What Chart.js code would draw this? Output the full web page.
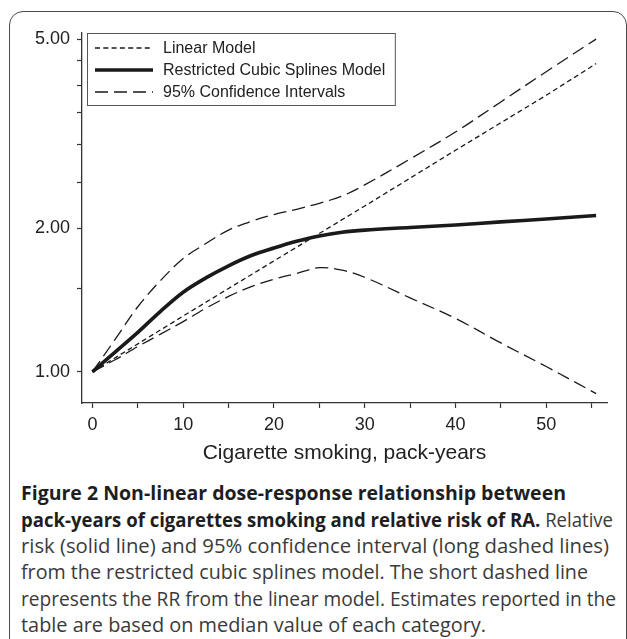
<!DOCTYPE html>
<html>
<head>
<meta charset="utf-8">
<script src="https://cdn.jsdelivr.net/npm/chart.js@4.4.1/dist/chart.umd.min.js"></script>
<style>
	html, body { margin: 0; padding: 0; background: #fff; }
	body { width: 627px; height: 639px; overflow: hidden; position: relative; }
	#frame { position: absolute; left: 9px; top: 11px; width: 618px; height: 700px; border: 1.5px solid #4a4a4a; border-radius: 14px; box-sizing: border-box; }
	#plot { position: absolute; left: 0; top: 0; }
	#caption { position: absolute; left: 21px; top: 0; font-family: "Open Sans", sans-serif; font-size: 19.5px; color: #3a3a3a; }
	.ln { position: absolute; left: 0; white-space: nowrap; line-height: 26px; transform-origin: 0 50%; }
	.ln b { color: #1e1e1e; font-weight: 700; }
</style>
</head>
<body>
<div id="frame"></div>
<canvas id="plot" width="627" height="470"></canvas>
<div id="caption">
	<div class="ln" style="top:480px" data-w="545"><b>Figure 2 Non-linear dose-response relationship between</b></div>
	<div class="ln" style="top:507px" data-w="592"><b>pack-years of cigarettes smoking and relative risk of RA.</b> Relative</div>
	<div class="ln" style="top:533px" data-w="588">risk (solid line) and 95% confidence interval (long dashed lines)</div>
	<div class="ln" style="top:559px" data-w="567">from the restricted cubic splines model. The short dashed line</div>
	<div class="ln" style="top:586px" data-w="595">represents the RR from the linear model. Estimates reported in the</div>
	<div class="ln" style="top:612px" data-w="465">table are based on median value of each category.</div>
</div>
<script>
	'use strict';

	// Values (relative risk vs pack-years)
	var packYears = [0, 2.5, 5, 7.5, 10, 12.5, 15, 17.5, 20, 22.5, 25, 27.5, 30, 35, 40, 45, 50, 55.5];
	var splineRR  = [1.00, 1.10, 1.21, 1.34, 1.47, 1.575, 1.67, 1.755, 1.82, 1.88, 1.93, 1.965, 1.985, 2.01, 2.035, 2.065, 2.095, 2.13];
	var upperCI   = [1.00, 1.17, 1.37, 1.555, 1.73, 1.86, 1.985, 2.07, 2.14, 2.195, 2.26, 2.34, 2.47, 2.80, 3.19, 3.69, 4.27, 5.00];
	var lowerCI   = [1.00, 1.06, 1.13, 1.20, 1.275, 1.36, 1.44, 1.51, 1.565, 1.61, 1.655, 1.635, 1.58, 1.43, 1.295, 1.15, 1.026, 0.90];

	var linearYears = [0, 10, 20, 30, 40, 50, 55.5];
	var linearRR    = [1.00, 1.31, 1.71, 2.23, 2.92, 3.81, 4.44];

	var xTicks = [0, 5, 10, 15, 20, 25, 30, 35, 40, 45, 50, 55];
	var yTicks = [1, 1.5, 2, 2.5, 3, 3.5, 4, 4.5, 5];
	var yLabelled = [1, 2, 5];

	var INK = '#1a1a1a';
	var FONT = '"Liberation Sans", Arial, sans-serif';

	function pairs(xs, ys) {
		return xs.map(function(x, i) { return { x: x, y: ys[i] }; });
	}

	// Boxed legend drawn inside the plot, top-left
	var boxLegend = {
		id: 'boxLegend',
		afterDraw: function(chart) {
			var c = chart.ctx;
			var items = chart.data.datasets
				.filter(function(d) { return d.legendOrder; })
				.sort(function(a, b) { return a.legendOrder - b.legendOrder; });
			var left = 87.5, top = 33.5, rowH = 22, textX = 163;
			c.save();
			c.font = '16px ' + FONT;
			var maxW = 0;
			items.forEach(function(d) { maxW = Math.max(maxW, c.measureText(d.label).width); });
			var w = textX - left + maxW + 10, h = 72;
			c.fillStyle = '#fff';
			c.fillRect(left, top, w, h);
			c.strokeStyle = '#555';
			c.lineWidth = 1;
			c.strokeRect(left, top, w, h);
			items.forEach(function(d, i) {
				var y = top + 14.5 + i * rowH;
				c.beginPath();
				c.setLineDash(d.borderDash || []);
				c.lineWidth = d.borderWidth;
				c.strokeStyle = INK;
				c.moveTo(95, y);
				c.lineTo(153, y);
				c.stroke();
				c.setLineDash([]);
				c.fillStyle = '#222';
				c.textBaseline = 'middle';
				c.fillText(d.label, textX, y + 1);
			});
			c.restore();
		}
	};

	var ctx = document.getElementById('plot');

	new Chart(ctx, {
		type: 'line',
		data: {
			datasets: [
				{
					label: 'Upper CI',
					data: pairs(packYears, upperCI),
					borderColor: INK,
					borderWidth: 1.3,
					borderDash: [13, 6],
					tension: 0.35,
					pointRadius: 0
				},
				{
					label: '95% Confidence Intervals',
					legendOrder: 3,
					data: pairs(packYears, lowerCI),
					borderColor: INK,
					borderWidth: 1.3,
					borderDash: [13, 6],
					tension: 0.35,
					pointRadius: 0
				},
				{
					label: 'Linear Model',
					legendOrder: 1,
					data: pairs(linearYears, linearRR),
					borderColor: INK,
					borderWidth: 1.3,
					borderDash: [5, 3.3],
					tension: 0,
					pointRadius: 0
				},
				{
					label: 'Restricted Cubic Splines Model',
					legendOrder: 2,
					data: pairs(packYears, splineRR),
					borderColor: INK,
					borderWidth: 3.6,
					tension: 0.35,
					pointRadius: 0
				}
			]
		},
		options: {
			responsive: false,
			animation: false,
			layout: { padding: { left: 0, right: 20, top: 33, bottom: 0 } },
			plugins: {
				legend: { display: false },
				tooltip: { enabled: false }
			},
			scales: {
				x: {
					type: 'linear',
					min: -1.15,
					max: 56.7,
					afterBuildTicks: function(s) { s.ticks = xTicks.map(function(v) { return { value: v }; }); },
					afterFit: function(s) { s.height = 67; },
					grid: { drawOnChartArea: false, tickLength: 5, color: '#333', tickWidth: 1.2 },
					border: { color: '#333', width: 1.3 },
					ticks: {
						autoSkip: false,
						maxRotation: 0,
						padding: 6,
						color: '#222',
						font: { size: 18, family: FONT },
						callback: function(v) { return v % 10 === 0 ? String(v) : ''; }
					},
					title: {
						display: true,
						text: 'Cigarette smoking, pack-years',
						color: '#222',
						font: { size: 21, family: FONT },
						padding: { top: 2, bottom: 4 }
					}
				},
				y: {
					type: 'logarithmic',
					min: 0.86,
					max: 5.15,
					afterBuildTicks: function(s) { s.ticks = yTicks.map(function(v) { return { value: v }; }); },
					afterFit: function(s) { s.width = 82; },
					grid: { drawOnChartArea: false, tickLength: 5, color: '#333', tickWidth: 1.2 },
					border: { color: '#333', width: 1.3 },
					ticks: {
						autoSkip: false,
						padding: 7,
						color: '#222',
						font: { size: 18, family: FONT },
						callback: function(v) { return yLabelled.indexOf(v) >= 0 ? v.toFixed(2) : ''; }
					}
				}
			}
		},
		plugins: [boxLegend]
	});

	// Squeeze each caption line to the width it has in the figure
	function fitCaption() {
		document.querySelectorAll('#caption .ln').forEach(function(el) {
			el.style.transform = 'none';
			var w = el.getBoundingClientRect().width;
			el.style.transform = 'scaleX(' + (parseFloat(el.dataset.w) / w) + ')';
		});
	}
	fitCaption();
	if (document.fonts && document.fonts.ready) {
		document.fonts.ready.then(fitCaption);
	}
</script>
</body>
</html>
